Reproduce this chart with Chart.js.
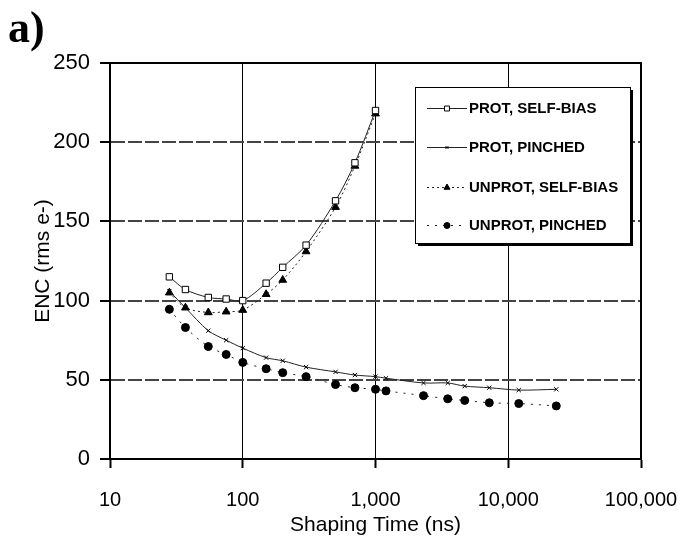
<!DOCTYPE html>
<html>
<head>
<meta charset="utf-8">
<script src="https://cdn.jsdelivr.net/npm/chart.js@4"></script>
<style>
  body { margin: 0; background: #fff; }
  #wrap { width: 678px; height: 552px; }
</style>
</head>
<body>
<div id="wrap"><canvas id="encChart" width="678" height="552"></canvas></div>
<script>
// shaping times (ns)
const selfBiasTimes = [28, 37, 55, 75, 100, 150, 200, 300, 500, 700, 1000];
const pinchedTimes = [28, 37, 55, 75, 100, 150, 200, 300, 500, 700, 1000, 1200, 2300, 3500, 4700, 7200, 12000, 23000];

// ENC values (rms e-)
const protSelfBias = [115, 107, 102, 101, 100, 111, 121, 135, 163, 187, 220];
const unprotSelfBias = [105, 95.5, 92.5, 93, 94, 104, 113, 131, 159, 185, 218];
const protPinched = [106, 95.5, 81, 75, 70, 64, 62, 58, 55, 53, 52, 51, 48, 48, 46, 45, 43.5, 44];
const unprotPinched = [94.5, 83, 71, 66, 61, 57, 54.5, 52, 47, 45, 44, 43, 40, 38, 37, 35.5, 35, 33.5];

const xTicks = [10, 100, 1000, 10000, 100000];
const seriesNames = ["PROT, SELF-BIAS", "PROT, PINCHED", "UNPROT, SELF-BIAS", "UNPROT, PINCHED"];

function toPoints(xs, ys) {
  return xs.map((x, i) => ({ x: x, y: ys[i] }));
}

const lineColor = "#222";
const fontFamily = "'Liberation Sans', Arial, sans-serif";

// Dataset styles, reused by the legend
const styles = [
  { pointStyle: "rect", radius: 4.5, fill: "#fff", dash: [] },
  { pointStyle: "crossRot", radius: 3, fill: "#000", dash: [] },
  { pointStyle: "triangle", radius: 4.5, fill: "#000", dash: [2, 3] },
  { pointStyle: "circle", radius: 4, fill: "#000", dash: [2, 6] },
];
const seriesData = [
  toPoints(selfBiasTimes, protSelfBias),
  toPoints(pinchedTimes, protPinched),
  toPoints(selfBiasTimes, unprotSelfBias),
  toPoints(pinchedTimes, unprotPinched),
];

// Frame around the plot and the "a)" label
const framePlugin = {
  id: "frame",
  afterDraw(chart) {
    const { ctx, chartArea } = chart;
    ctx.save();
    ctx.strokeStyle = "#000";
    ctx.lineWidth = 2;
    ctx.strokeRect(chartArea.left, chartArea.top, chartArea.right - chartArea.left, chartArea.bottom - chartArea.top);
    ctx.fillStyle = "#000";
    ctx.font = "bold 44px 'Liberation Serif', serif";
    ctx.textBaseline = "alphabetic";
    ctx.fillText("a)", 8, 42);
    ctx.restore();
  },
};

// Legend box drawn like the original (boxed, with a shadow)
const legendPlugin = {
  id: "boxLegend",
  afterDraw(chart) {
    const ctx = chart.ctx;
    const bx = 415, by = 87, bw = 215, bh = 156;
    ctx.save();
    ctx.fillStyle = "#000";
    ctx.fillRect(bx + 3, by + 3, bw, bh);
    ctx.fillStyle = "#fff";
    ctx.fillRect(bx, by, bw, bh);
    ctx.strokeStyle = "#000";
    ctx.lineWidth = 1;
    ctx.strokeRect(bx + 0.5, by + 0.5, bw, bh);

    const rowsY = [108, 147, 187, 225];
    seriesNames.forEach((name, i) => {
      const st = styles[i];
      const y = rowsY[i];
      ctx.strokeStyle = lineColor;
      ctx.lineWidth = 1;
      ctx.setLineDash(st.dash);
      ctx.beginPath();
      ctx.moveTo(427, y + 0.5);
      ctx.lineTo(467, y + 0.5);
      ctx.stroke();
      ctx.setLineDash([]);
      ctx.fillStyle = st.fill;
      ctx.strokeStyle = "#000";
      Chart.helpers.drawPoint(ctx, { pointStyle: st.pointStyle, radius: st.radius - 1, borderWidth: 1, rotation: 0 }, 447, y + 0.5);

      ctx.fillStyle = "#000";
      ctx.font = "bold 15px " + fontFamily;
      ctx.textBaseline = "middle";
      ctx.fillText(name, 469, y + 1);
    });
    ctx.restore();
  },
};

const ctx = document.getElementById("encChart").getContext("2d");

new Chart(ctx, {
  type: "line",
  data: {
    datasets: seriesData.map((pts, i) => ({
      label: seriesNames[i],
      data: pts,
      borderColor: lineColor,
      borderWidth: 1,
      borderDash: styles[i].dash,
      tension: 0.3,
      pointStyle: styles[i].pointStyle,
      pointRadius: styles[i].radius,
      pointBackgroundColor: styles[i].fill,
      pointBorderColor: "#000",
      pointBorderWidth: 1,
      fill: false,
    })),
  },
  options: {
    responsive: false,
    animation: false,
    layout: { padding: { top: 63, right: 37, left: 0, bottom: 0 } },
    plugins: {
      legend: { display: false },
      tooltip: { enabled: false },
    },
    scales: {
      x: {
        type: "logarithmic",
        min: 10,
        max: 100000,
        afterBuildTicks: (axis) => {
          axis.ticks = xTicks.map((v) => ({ value: v }));
        },
        afterFit: (axis) => {
          axis.height = 93;
          axis.paddingLeft = 0;
          axis.paddingRight = 0;
        },
        ticks: {
          color: "#000",
          font: { family: fontFamily, size: 20 },
          padding: 20,
          maxRotation: 0,
          autoSkip: false,
          callback: (v) => Number(v).toLocaleString("en-US"),
        },
        grid: {
          color: "#000",
          lineWidth: 1,
          tickLength: 9,
          tickColor: "#000",
          tickWidth: 2,
        },
        border: { color: "#000", width: 2 },
        title: {
          display: true,
          text: "Shaping Time (ns)",
          color: "#000",
          font: { family: fontFamily, size: 21 },
          padding: { top: 0, bottom: 14 },
        },
      },
      y: {
        min: 0,
        max: 250,
        afterFit: (axis) => {
          axis.width = 110;
          axis.paddingTop = 0;
          axis.paddingBottom = 0;
        },
        ticks: {
          stepSize: 50,
          color: "#000",
          font: { family: fontFamily, size: 22 },
          padding: 10,
        },
        grid: {
          color: "#444",
          lineWidth: 2,
          tickBorderDash: [],
          tickLength: 10,
          tickColor: "#000",
          tickWidth: 2,
        },
        border: { color: "#000", width: 2, dash: [14, 3] },
        title: {
          display: true,
          text: "ENC (rms e-)",
          color: "#000",
          font: { family: fontFamily, size: 21 },
          padding: { top: 31, bottom: 0 },
        },
      },
    },
  },
  plugins: [framePlugin, legendPlugin],
});
</script>
</body>
</html>
